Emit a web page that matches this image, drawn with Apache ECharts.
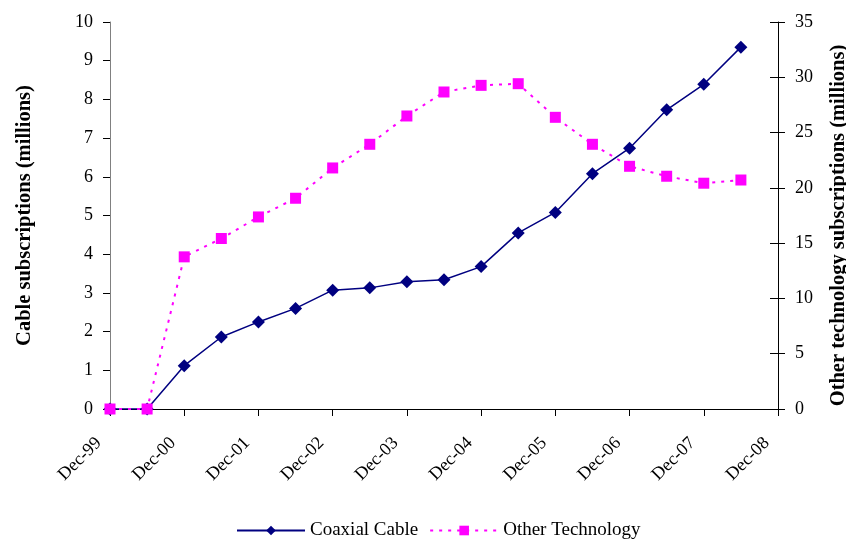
<!DOCTYPE html>
<html><head><meta charset="utf-8">
<script src="https://cdn.jsdelivr.net/npm/echarts@6/dist/echarts.min.js"></script>
<style>html,body{margin:0;padding:0;background:#fff}#c{width:846px;height:540px}</style>
</head><body><div id="c"></div>
<script>
const categories = ['Dec-99','Jun-00','Dec-00','Jun-01','Dec-01','Jun-02','Dec-02','Jun-03','Dec-03','Jun-04','Dec-04','Jun-05','Dec-05','Jun-06','Dec-06','Jun-07','Dec-07','Jun-08','Dec-08'];
const coaxialCable = [0, 0, 1.12, 1.86, 2.25, 2.6, 3.07, 3.13, 3.29, 3.34, 3.68, 4.55, 5.08, 6.08, 6.74, 7.73, 8.39, 9.35];
const otherTechnology = [0, 0, 13.76, 15.42, 17.37, 19.06, 21.8, 23.94, 26.5, 28.67, 29.27, 29.42, 26.38, 23.94, 21.95, 21.05, 20.42, 20.71];
const leftTicks = [0, 10, 1];
const rightTicks = [0, 35, 5];

const font = 'Liberation Serif';
const chart = echarts.init(document.getElementById('c'), null, {renderer: 'canvas'});
chart.setOption({
  animation: false,
  backgroundColor: '#fff',
  textStyle: {fontFamily: font, color: '#000'},
  grid: {left: 110, right: 68, top: 22, bottom: 131, containLabel: false, outerBoundsMode: 'none'},
  legend: {
    bottom: 0, left: 236, padding: 0, itemWidth: 68, itemHeight: 12, itemGap: 11,
    textStyle: {fontFamily: font, fontSize: 19, color: '#000'},
    data: ['Coaxial Cable', 'Other Technology']
  },
  xAxis: {
    type: 'category', data: categories, boundaryGap: false,
    axisLine: {lineStyle: {color: '#000', width: 1}},
    axisTick: {show: true, interval: 1, length: 7, lineStyle: {color: '#000'}},
    axisLabel: {interval: 1, rotate: 45, margin: 20, padding: [0, 16, 0, 0], fontFamily: font, fontSize: 18, color: '#000'},
    splitLine: {show: false}
  },
  yAxis: [{
    type: 'value', min: leftTicks[0], max: leftTicks[1], interval: leftTicks[2],
    name: 'Cable subscriptions (millions)', nameLocation: 'middle', nameRotate: 90, nameGap: 75,
    nameTextStyle: {fontFamily: font, fontSize: 20.5, fontWeight: 'bold', color: '#000'},
    axisLine: {show: true, lineStyle: {color: '#808080'}},
    axisTick: {show: true, length: 7, lineStyle: {color: '#000'}},
    axisLabel: {margin: 17, fontFamily: font, fontSize: 18, color: '#000'},
    splitLine: {show: false}
  }, {
    type: 'value', min: rightTicks[0], max: rightTicks[1], interval: rightTicks[2], position: 'right',
    name: 'Other technology subscriptions (millions)', nameLocation: 'middle', nameRotate: 90, nameGap: 50,
    nameTextStyle: {fontFamily: font, fontSize: 20.5, fontWeight: 'bold', color: '#000', padding: [0, 20, 0, 0]},
    axisLine: {show: true, lineStyle: {color: '#000'}},
    axisTick: {show: true, length: 7, lineStyle: {color: '#000'}},
    axisLabel: {margin: 17, fontFamily: font, fontSize: 18, color: '#000'},
    splitLine: {show: false}
  }, {
    type: 'value', min: rightTicks[0], max: rightTicks[1], interval: rightTicks[2], position: 'right',
    axisLine: {show: false},
    axisTick: {show: true, inside: true, length: 8, lineStyle: {color: '#000'}},
    axisLabel: {show: false},
    splitLine: {show: false}
  }],
  series: [{
    name: 'Coaxial Cable', type: 'line', yAxisIndex: 0, data: coaxialCable,
    symbol: 'diamond', symbolSize: 13,
    lineStyle: {color: '#000080', width: 1.5},
    itemStyle: {color: '#000080'}
  }, {
    name: 'Other Technology', type: 'line', yAxisIndex: 1, data: otherTechnology,
    symbol: 'rect', symbolSize: 11,
    lineStyle: {color: '#FF00FF', width: 2, type: [3, 6]},
    itemStyle: {color: '#FF00FF'}
  }]
});
</script></body></html>
